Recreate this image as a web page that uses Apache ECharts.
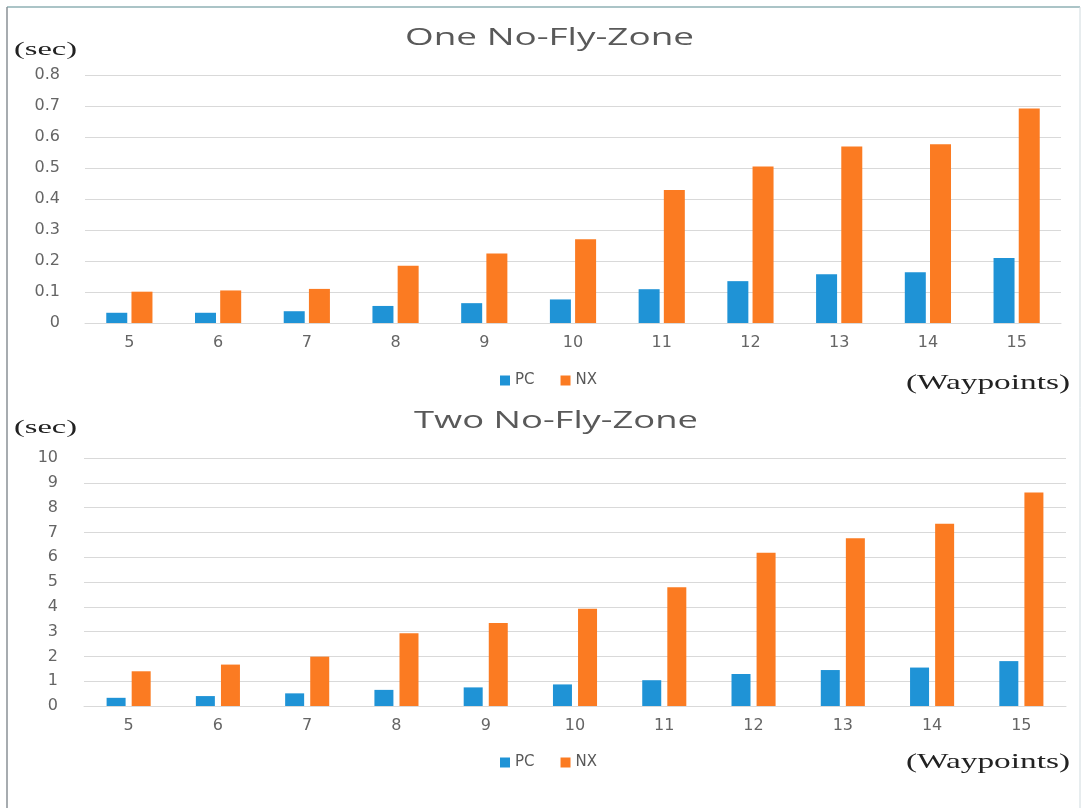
<!DOCTYPE html>
<html>
<head>
<meta charset="utf-8">
<script src="https://cdn.jsdelivr.net/npm/echarts@6/dist/echarts.min.js"></script>
<style>
  html, body { margin: 0; padding: 0; background: #ffffff; }
  #chart { width: 1083px; height: 809px; }
</style>
</head>
<body>
<div id="chart"></div>
<script>
// ---- Data ----
const categories = ['5', '6', '7', '8', '9', '10', '11', '12', '13', '14', '15'];
const seriesNames = ['PC', 'NX'];
const pcOne = [0.033, 0.033, 0.038, 0.055, 0.064, 0.076, 0.109, 0.135, 0.157, 0.164, 0.210];
const nxOne = [0.101, 0.105, 0.110, 0.185, 0.224, 0.270, 0.429, 0.505, 0.569, 0.577, 0.692];
const pcTwo = [0.33, 0.40, 0.51, 0.65, 0.75, 0.87, 1.04, 1.29, 1.45, 1.55, 1.81];
const nxTwo = [1.40, 1.67, 1.99, 2.93, 3.35, 3.92, 4.79, 6.18, 6.76, 7.35, 8.61];
const titleOne = 'One No-Fly-Zone';
const titleTwo = 'Two No-Fly-Zone';
const yUnit = '(sec)';
const xUnit = '(Waypoints)';

// ---- Styling ----
const PC_COLOR = '#1f93d6';
const NX_COLOR = '#fb7b22';
const GRID_COLOR = '#d9d9d9';
const LABEL_COLOR = '#656565';
const TICK_FONT = 'DejaVu Sans';

const measureCtx = document.createElement('canvas').getContext('2d');
function fitText(text, x, y, size, family, targetWidth, color) {
  measureCtx.font = size + 'px "' + family + '"';
  const w = measureCtx.measureText(text).width;
  return {
    type: 'text', x: x, y: y, scaleX: targetWidth / w, silent: true,
    style: { text: text, fontSize: size, fontFamily: family, fill: color, verticalAlign: 'middle', align: 'left' }
  };
}

const chart = echarts.init(document.getElementById('chart'), null, { renderer: 'canvas' });

function xAxisFor(gridIndex) {
  return {
    type: 'category', gridIndex: gridIndex, data: categories,
    axisTick: { show: false },
    axisLine: { lineStyle: { color: GRID_COLOR, width: 1 } },
    axisLabel: { color: LABEL_COLOR, fontFamily: TICK_FONT, fontSize: 16, margin: 12 }
  };
}
function yAxisFor(gridIndex, max, interval, margin) {
  return {
    type: 'value', gridIndex: gridIndex, min: 0, max: max, interval: interval,
    axisLine: { show: false }, axisTick: { show: false },
    splitLine: { lineStyle: { color: GRID_COLOR, width: 1 } },
    axisLabel: { color: LABEL_COLOR, fontFamily: TICK_FONT, fontSize: 16, margin: margin }
  };
}
function legendFor(top) {
  return {
    data: seriesNames, left: 500, top: top, padding: 0,
    icon: 'rect', itemWidth: 10, itemHeight: 10, itemGap: 26,
    textStyle: { color: '#595959', fontFamily: TICK_FONT, fontSize: 15 },
    selectedMode: false
  };
}

const option = {
  animation: false,
  backgroundColor: '#ffffff',
  color: [PC_COLOR, NX_COLOR],
  grid: [
    { left: 85, right: 22, top: 75, height: 248 },
    { left: 84, right: 17, top: 458, height: 248 }
  ],
  xAxis: [xAxisFor(0), xAxisFor(1)],
  yAxis: [yAxisFor(0, 0.8, 0.1, 25), yAxisFor(1, 10, 1, 26)],
  legend: [legendFor(373), legendFor(755)],
  series: [
    { name: 'PC', type: 'bar', xAxisIndex: 0, yAxisIndex: 0, data: pcOne, barWidth: 21, barGap: '20%', itemStyle: { color: PC_COLOR } },
    { name: 'NX', type: 'bar', xAxisIndex: 0, yAxisIndex: 0, data: nxOne, barWidth: 21, barGap: '20%', itemStyle: { color: NX_COLOR } },
    { name: 'PC', type: 'bar', xAxisIndex: 1, yAxisIndex: 1, data: pcTwo, barWidth: 19, barGap: '32%', itemStyle: { color: PC_COLOR } },
    { name: 'NX', type: 'bar', xAxisIndex: 1, yAxisIndex: 1, data: nxTwo, barWidth: 19, barGap: '32%', itemStyle: { color: NX_COLOR } }
  ],
  graphic: [
    // frame
    { type: 'line', silent: true, shape: { x1: 7, y1: 7, x2: 1080, y2: 7 }, style: { stroke: '#8fb0b5', lineWidth: 1.5 } },
    { type: 'line', silent: true, shape: { x1: 7, y1: 7, x2: 7, y2: 808 }, style: { stroke: '#8a9196', lineWidth: 1.5 } },
    { type: 'line', silent: true, shape: { x1: 1080, y1: 7, x2: 1080, y2: 808 }, style: { stroke: '#cfdade', lineWidth: 1 } },
    // titles
    fitText(titleOne, 405, 38, 24, 'Open Sans', 289, '#595959'),
    fitText(titleTwo, 414, 421, 24, 'Open Sans', 284, '#595959'),
    // unit labels
    fitText(yUnit, 14, 50, 19, 'Liberation Serif', 63, '#222222'),
    fitText(yUnit, 14, 428, 19, 'Liberation Serif', 63, '#222222'),
    fitText(xUnit, 906, 383, 22, 'Liberation Serif', 164, '#222222'),
    fitText(xUnit, 906, 762, 22, 'Liberation Serif', 164, '#222222')
  ]
};
chart.setOption(option);
</script>
</body>
</html>
